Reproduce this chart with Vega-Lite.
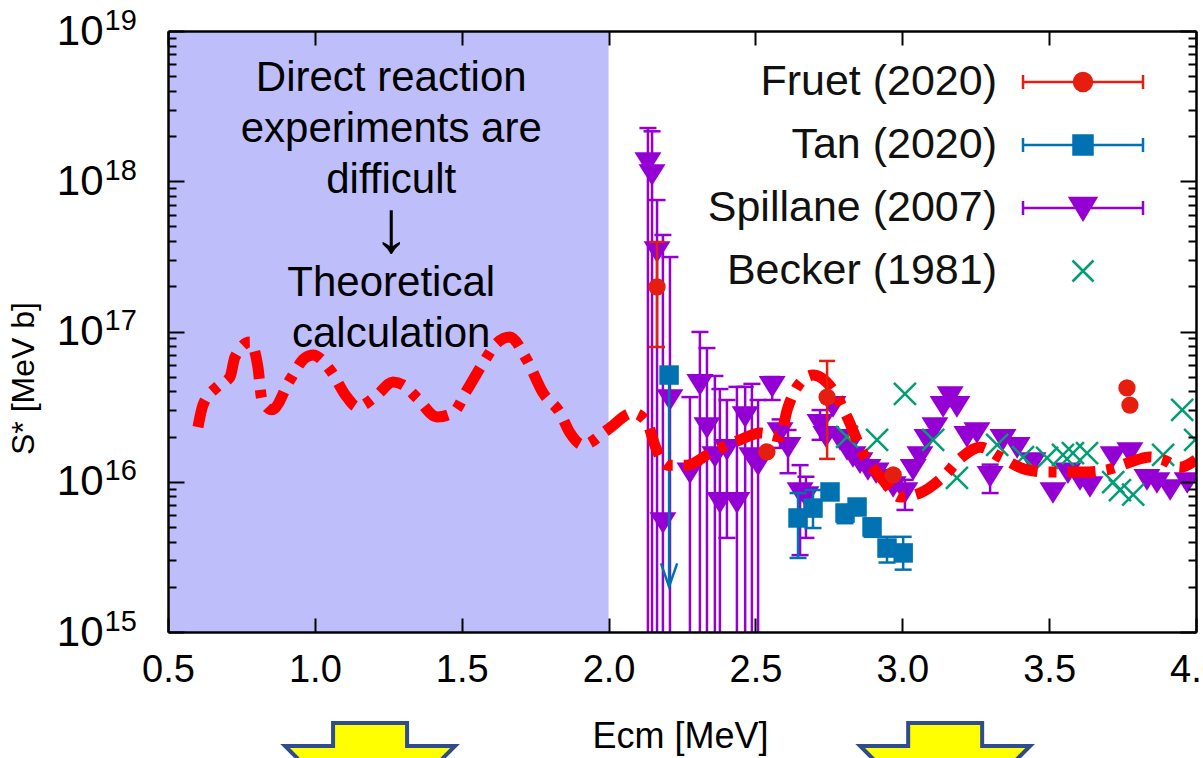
{
  "$schema": "https://vega.github.io/schema/vega-lite/v6.json",
  "width": 1028,
  "height": 601,
  "autosize": {"type": "none"},
  "padding": {"left": 168, "top": 31, "right": 7, "bottom": 126},
  "background": "white",
  "config": {
    "font": "Liberation Sans",
    "view": {"stroke": null},
    "legend": {
      "orient": "none",
      "legendX": 893.5,
      "legendY": 29.5,
      "padding": 0,
      "labelFontSize": 43,
      "labelColor": "#111",
      "labelAlign": "right",
      "labelBaseline": "middle",
      "labelOffset": -107.5,
      "labelLimit": 500,
      "symbolSize": 400,
      "symbolStrokeWidth": 2.5,
      "symbolOpacity": 1,
      "rowPadding": 19
    }
  },
  "datasets": {
    "theory": [
      {"E": 0.602, "S": 2.31e16}, {"E": 0.619, "S": 3.24e16}, {"E": 0.667, "S": 4.28e16}, {"E": 0.711, "S": 4.98e16},
      {"E": 0.728, "S": 6.76e16}, {"E": 0.779, "S": 8.51e16}, {"E": 0.806, "S": 5.81e16}, {"E": 0.820, "S": 3.50e16},
      {"E": 0.854, "S": 3.01e16}, {"E": 0.915, "S": 4.75e16}, {"E": 0.966, "S": 6.67e16}, {"E": 0.994, "S": 6.98e16},
      {"E": 1.052, "S": 5.55e16}, {"E": 1.109, "S": 3.66e16}, {"E": 1.144, "S": 3.15e16}, {"E": 1.212, "S": 3.78e16},
      {"E": 1.266, "S": 4.61e16}, {"E": 1.300, "S": 4.41e16}, {"E": 1.348, "S": 3.61e16}, {"E": 1.416, "S": 2.70e16},
      {"E": 1.470, "S": 2.87e16}, {"E": 1.518, "S": 4.08e16}, {"E": 1.573, "S": 6.17e16}, {"E": 1.620, "S": 8.38e16},
      {"E": 1.664, "S": 9.18e16}, {"E": 1.722, "S": 6.46e16}, {"E": 1.777, "S": 3.90e16}, {"E": 1.835, "S": 2.87e16},
      {"E": 1.869, "S": 2.11e16}, {"E": 1.913, "S": 1.76e16}, {"E": 1.995, "S": 2.21e16}, {"E": 2.083, "S": 2.87e16},
      {"E": 2.130, "S": 2.50e16}, {"E": 2.160, "S": 1.70e16}, {"E": 2.199, "S": 1.29e16}, {"E": 2.267, "S": 1.29e16},
      {"E": 2.345, "S": 1.55e16}, {"E": 2.448, "S": 1.90e16}, {"E": 2.516, "S": 2.11e16}, {"E": 2.584, "S": 1.99e16},
      {"E": 2.608, "S": 3.01e16}, {"E": 2.642, "S": 4.28e16}, {"E": 2.696, "S": 5.13e16}, {"E": 2.764, "S": 4.08e16},
      {"E": 2.812, "S": 2.70e16}, {"E": 2.866, "S": 1.55e16}, {"E": 2.934, "S": 1.03e16}, {"E": 2.992, "S": 7.92e15},
      {"E": 3.060, "S": 8.41e15}, {"E": 3.139, "S": 1.08e16}, {"E": 3.203, "S": 1.46e16}, {"E": 3.265, "S": 1.70e16},
      {"E": 3.333, "S": 1.46e16}, {"E": 3.425, "S": 1.20e16}, {"E": 3.503, "S": 1.16e16}, {"E": 3.615, "S": 1.16e16},
      {"E": 3.697, "S": 1.20e16}, {"E": 3.765, "S": 1.33e16}, {"E": 3.844, "S": 1.46e16}, {"E": 3.888, "S": 1.40e16},
      {"E": 3.946, "S": 1.25e16}, {"E": 4.0, "S": 1.40e16}
    ],
    "fruet": [
      {"E": 2.165, "S": 1.98e17, "lo": 7.89e16, "hi": 3.94e17},
      {"E": 2.539, "S": 1.58e16, "lo": null, "hi": null},
      {"E": 2.744, "S": 3.66e16, "lo": 1.42e16, "hi": 6.37e16},
      {"E": 2.969, "S": 1.11e16, "lo": null, "hi": null},
      {"E": 3.765, "S": 4.21e16, "lo": null, "hi": null},
      {"E": 3.775, "S": 3.24e16, "lo": null, "hi": null}
    ],
    "tan": [
      {"E": 2.206, "S": 5.13e16, "lo": null, "hi": null, "limit": 2.0e15},
      {"E": 2.645, "S": 5.74e15, "lo": 3.11e15, "hi": 8.41e15, "limit": null},
      {"E": 2.696, "S": 6.68e15, "lo": 4.92e15, "hi": 8.81e15, "limit": null},
      {"E": 2.754, "S": 8.55e15, "lo": null, "hi": null, "limit": null},
      {"E": 2.805, "S": 6.19e15, "lo": 5.30e15, "hi": 7.00e15, "limit": null},
      {"E": 2.846, "S": 6.79e15, "lo": null, "hi": null, "limit": null},
      {"E": 2.897, "S": 5.00e15, "lo": 4.30e15, "hi": 5.70e15, "limit": null},
      {"E": 2.948, "S": 3.62e15, "lo": 2.90e15, "hi": 4.30e15, "limit": null},
      {"E": 3.003, "S": 3.36e15, "lo": 2.60e15, "hi": 4.30e15, "limit": null}
    ],
    "spillane": [
      {"E": 2.134, "S": 1.32e18, "lo": 1e14, "hi": 2.26e18},
      {"E": 2.148, "S": 1.10e18, "lo": 1e14, "hi": 2.15e18},
      {"E": 2.165, "S": 3.38e17, "lo": 1e14, "hi": 7.50e17},
      {"E": 2.185, "S": 5.31e15, "lo": 1e14, "hi": 4.39e17},
      {"E": 2.209, "S": 3.50e16, "lo": 1e14, "hi": 3.13e17},
      {"E": 2.277, "S": 1.14e16, "lo": 1e14, "hi": 3.66e16},
      {"E": 2.311, "S": 4.41e16, "lo": 1e14, "hi": 9.93e16},
      {"E": 2.335, "S": 2.28e16, "lo": 1e14, "hi": 7.76e16},
      {"E": 2.362, "S": 1.46e16, "lo": 1e14, "hi": 5.06e16},
      {"E": 2.379, "S": 7.23e15, "lo": 1e14, "hi": 4.14e16},
      {"E": 2.403, "S": 1.63e16, "lo": 4.23e15, "hi": 3.50e16},
      {"E": 2.437, "S": 7.23e15, "lo": 1e14, "hi": 4.28e16},
      {"E": 2.465, "S": 2.70e16, "lo": 1e14, "hi": 4.28e16},
      {"E": 2.488, "S": 1.44e16, "lo": 1e14, "hi": 4.48e16},
      {"E": 2.509, "S": 1.29e16, "lo": 1e14, "hi": 3.50e16},
      {"E": 2.557, "S": 4.28e16, "lo": 3.50e16, "hi": 4.98e16},
      {"E": 2.584, "S": 2.11e16, "lo": 1.68e16, "hi": 2.60e16},
      {"E": 2.611, "S": 1.68e16, "lo": 1.14e16, "hi": 2.21e16},
      {"E": 2.652, "S": 8.41e15, "lo": 3.25e15, "hi": 1.29e16},
      {"E": 2.672, "S": 7.92e15, "lo": 4.23e15, "hi": 1.08e16},
      {"E": 2.720, "S": 2.39e16, "lo": 1.90e16, "hi": 3.00e16},
      {"E": 2.740, "S": 1.99e16, "lo": null, "hi": null},
      {"E": 2.764, "S": 3.15e16, "lo": null, "hi": null},
      {"E": 2.788, "S": 1.90e16, "lo": null, "hi": null},
      {"E": 2.812, "S": 1.63e16, "lo": null, "hi": null},
      {"E": 2.832, "S": 1.46e16, "lo": null, "hi": null},
      {"E": 2.856, "S": 1.33e16, "lo": null, "hi": null},
      {"E": 2.883, "S": 1.20e16, "lo": null, "hi": null},
      {"E": 2.911, "S": 1.14e16, "lo": null, "hi": null},
      {"E": 2.938, "S": 1.03e16, "lo": null, "hi": null},
      {"E": 2.969, "S": 9.23e15, "lo": null, "hi": null},
      {"E": 3.009, "S": 8.41e15, "lo": 6.49e15, "hi": 1.03e16},
      {"E": 3.037, "S": 1.20e16, "lo": null, "hi": null},
      {"E": 3.060, "S": 1.46e16, "lo": null, "hi": null},
      {"E": 3.084, "S": 1.90e16, "lo": null, "hi": null},
      {"E": 3.111, "S": 2.28e16, "lo": null, "hi": null},
      {"E": 3.139, "S": 3.15e16, "lo": null, "hi": null},
      {"E": 3.163, "S": 3.66e16, "lo": null, "hi": null},
      {"E": 3.186, "S": 3.15e16, "lo": null, "hi": null},
      {"E": 3.220, "S": 1.99e16, "lo": null, "hi": null},
      {"E": 3.254, "S": 2.11e16, "lo": null, "hi": null},
      {"E": 3.299, "S": 1.08e16, "lo": 8.41e15, "hi": 1.30e16},
      {"E": 3.343, "S": 1.90e16, "lo": null, "hi": null},
      {"E": 3.391, "S": 1.68e16, "lo": null, "hi": null},
      {"E": 3.445, "S": 1.33e16, "lo": null, "hi": null},
      {"E": 3.513, "S": 8.41e15, "lo": null, "hi": null},
      {"E": 3.564, "S": 1.14e16, "lo": null, "hi": null},
      {"E": 3.605, "S": 1.03e16, "lo": null, "hi": null},
      {"E": 3.639, "S": 9.23e15, "lo": null, "hi": null},
      {"E": 3.718, "S": 1.46e16, "lo": null, "hi": null},
      {"E": 3.775, "S": 1.55e16, "lo": null, "hi": null},
      {"E": 3.833, "S": 1.03e16, "lo": null, "hi": null},
      {"E": 3.867, "S": 9.82e15, "lo": null, "hi": null},
      {"E": 3.912, "S": 8.81e15, "lo": null, "hi": null},
      {"E": 3.970, "S": 9.82e15, "lo": null, "hi": null}
    ],
    "becker": [
      {"E": 2.812, "S": 1.99e16}, {"E": 2.914, "S": 1.90e16}, {"E": 3.009, "S": 3.84e16}, {"E": 3.105, "S": 1.90e16},
      {"E": 3.186, "S": 1.06e16}, {"E": 3.323, "S": 1.76e16}, {"E": 3.411, "S": 1.46e16}, {"E": 3.493, "S": 1.44e16},
      {"E": 3.547, "S": 1.51e16}, {"E": 3.581, "S": 1.55e16}, {"E": 3.629, "S": 1.55e16}, {"E": 3.718, "S": 9.95e15},
      {"E": 3.741, "S": 8.81e15}, {"E": 3.786, "S": 8.20e15}, {"E": 3.888, "S": 1.51e16}, {"E": 3.953, "S": 3.01e16},
      {"E": 3.997, "S": 1.90e16}
    ]
  },
  "resolve": {"axis": {"x": "independent", "y": "independent"}},
  "layer": [
    {
      "data": {"values": [{"from": 0.5, "to": 2.0}]},
      "mark": {"type": "rect", "color": "#bebefa", "clip": true},
      "encoding": {
        "x": {"field": "from", "type": "quantitative", "scale": {"domain": [0.5, 4.0], "nice": false, "zero": false}, "axis": null},
        "x2": {"field": "to"}
      }
    },
    {
      "data": {"values": [{}]},
      "mark": {"type": "text", "text": ["Direct reaction", "experiments are", "difficult"], "fontSize": 42, "lineHeight": 51, "align": "center", "baseline": "middle", "color": "#000"},
      "encoding": {
        "x": {"datum": 1.26, "type": "quantitative", "axis": null},
        "y": {"datum": 4.87e18, "type": "quantitative", "scale": {"type": "log", "domain": [1e15, 1e19], "nice": false}, "axis": null}
      }
    },
    {
      "data": {"values": [{}]},
      "mark": {"type": "text", "text": "↓", "fontSize": 74, "align": "center", "baseline": "middle", "color": "#000"},
      "encoding": {
        "x": {"datum": 1.26, "type": "quantitative", "axis": null},
        "y": {"datum": 4.74e17, "type": "quantitative", "axis": null}
      }
    },
    {
      "data": {"values": [{}]},
      "mark": {"type": "text", "text": ["Theoretical", "calculation"], "fontSize": 42, "lineHeight": 51, "align": "center", "baseline": "middle", "color": "#000"},
      "encoding": {
        "x": {"datum": 1.26, "type": "quantitative", "axis": null},
        "y": {"datum": 2.10e17, "type": "quantitative", "axis": null}
      }
    },
    {
      "data": {"name": "spillane"},
      "transform": [{"filter": "isValid(datum.lo)"}],
      "mark": {"type": "rule", "color": "#9400d3", "strokeWidth": 2.5, "clip": true},
      "encoding": {
        "x": {"field": "E", "type": "quantitative", "axis": null},
        "y": {"field": "lo", "type": "quantitative", "axis": null},
        "y2": {"field": "hi"}
      }
    },
    {
      "data": {"name": "spillane"},
      "transform": [{"fold": ["lo", "hi"], "as": ["end", "v"]}, {"filter": "isValid(datum.v)"}],
      "mark": {"type": "tick", "orient": "horizontal", "color": "#9400d3", "size": 17, "thickness": 2.5, "opacity": 1, "clip": true},
      "encoding": {
        "x": {"field": "E", "type": "quantitative", "axis": null},
        "y": {"field": "v", "type": "quantitative", "axis": null}
      }
    },
    {
      "data": {"name": "spillane"},
      "mark": {"type": "point", "shape": "M-1,-0.8L1,-0.8L0,0.8Z", "size": 730, "filled": true, "color": "#9400d3", "opacity": 1, "clip": true},
      "encoding": {
        "x": {"field": "E", "type": "quantitative", "axis": null},
        "y": {"field": "S", "type": "quantitative", "axis": null}
      }
    },
    {
      "data": {"name": "tan"},
      "transform": [{"filter": "isValid(datum.lo)"}],
      "mark": {"type": "rule", "color": "#0072b2", "strokeWidth": 2.5, "clip": true},
      "encoding": {
        "x": {"field": "E", "type": "quantitative", "axis": null},
        "y": {"field": "lo", "type": "quantitative", "axis": null},
        "y2": {"field": "hi"}
      }
    },
    {
      "data": {"name": "tan"},
      "transform": [{"fold": ["lo", "hi"], "as": ["end", "v"]}, {"filter": "isValid(datum.v)"}],
      "mark": {"type": "tick", "orient": "horizontal", "color": "#0072b2", "size": 17, "thickness": 2.5, "opacity": 1, "clip": true},
      "encoding": {
        "x": {"field": "E", "type": "quantitative", "axis": null},
        "y": {"field": "v", "type": "quantitative", "axis": null}
      }
    },
    {
      "data": {"name": "tan"},
      "transform": [{"filter": "isValid(datum.limit)"}],
      "mark": {"type": "rule", "color": "#0072b2", "strokeWidth": 2.5, "clip": true},
      "encoding": {
        "x": {"field": "E", "type": "quantitative", "axis": null},
        "y": {"field": "S", "type": "quantitative", "axis": null},
        "y2": {"field": "limit"}
      }
    },
    {
      "data": {"name": "tan"},
      "transform": [{"filter": "isValid(datum.limit)"}],
      "mark": {"type": "point", "shape": "M-0.45,-1.3L0,0L0.45,-1.3", "size": 1296, "filled": false, "color": "#0072b2", "strokeWidth": 2.5, "opacity": 1, "clip": true},
      "encoding": {
        "x": {"field": "E", "type": "quantitative", "axis": null},
        "y": {"field": "limit", "type": "quantitative", "axis": null}
      }
    },
    {
      "data": {"name": "tan"},
      "mark": {"type": "point", "shape": "square", "size": 380, "filled": true, "color": "#0072b2", "opacity": 1, "clip": true},
      "encoding": {
        "x": {"field": "E", "type": "quantitative", "axis": null},
        "y": {"field": "S", "type": "quantitative", "axis": null}
      }
    },
    {
      "data": {"name": "becker"},
      "mark": {"type": "point", "shape": "M-1,-1L1,1M-1,1L1,-1", "size": 484, "filled": false, "color": "#009e73", "strokeWidth": 2.5, "opacity": 1, "clip": true},
      "encoding": {
        "x": {"field": "E", "type": "quantitative", "axis": null},
        "y": {"field": "S", "type": "quantitative", "axis": null}
      }
    },
    {
      "data": {"name": "theory"},
      "mark": {"type": "line", "color": "#ff0000", "strokeWidth": 11, "strokeDash": [28, 11, 8, 11], "strokeCap": "butt", "interpolate": "monotone", "clip": true},
      "encoding": {
        "x": {"field": "E", "type": "quantitative", "axis": null},
        "y": {"field": "S", "type": "quantitative", "axis": null}
      }
    },
    {
      "data": {"name": "fruet"},
      "transform": [{"filter": "isValid(datum.lo)"}],
      "mark": {"type": "rule", "color": "#e51e10", "strokeWidth": 2.5, "clip": true},
      "encoding": {
        "x": {"field": "E", "type": "quantitative", "axis": null},
        "y": {"field": "lo", "type": "quantitative", "axis": null},
        "y2": {"field": "hi"}
      }
    },
    {
      "data": {"name": "fruet"},
      "transform": [{"fold": ["lo", "hi"], "as": ["end", "v"]}, {"filter": "isValid(datum.v)"}],
      "mark": {"type": "tick", "orient": "horizontal", "color": "#e51e10", "size": 16, "thickness": 2.5, "opacity": 1, "clip": true},
      "encoding": {
        "x": {"field": "E", "type": "quantitative", "axis": null},
        "y": {"field": "v", "type": "quantitative", "axis": null}
      }
    },
    {
      "data": {"name": "fruet"},
      "mark": {"type": "point", "shape": "circle", "size": 300, "filled": true, "color": "#e51e10", "opacity": 1, "clip": true},
      "encoding": {
        "x": {"field": "E", "type": "quantitative", "axis": null},
        "y": {"field": "S", "type": "quantitative", "axis": null}
      }
    },
    {
      "data": {"values": []},
      "mark": {"type": "point", "opacity": 0},
      "encoding": {
        "x": {"field": "E", "type": "quantitative", "axis": {"orient": "bottom", "values": [0.5, 1, 1.5, 2, 2.5, 3, 3.5, 4], "format": ".1f", "ticks": false, "domain": false, "grid": false, "labelFontSize": 38, "labelColor": "#000", "labelPadding": 19, "labelFlush": false, "labelOverlap": false, "labelBound": false, "title": "Ecm [MeV]", "titleFontSize": 36, "titleFontWeight": "normal", "titleColor": "#000", "titleX": 512, "titleY": 104, "titleAlign": "center", "titleBaseline": "middle", "zindex": 1}},
        "y": {"field": "S", "type": "quantitative", "axis": {"orient": "left", "values": [1e15, 1e16, 1e17, 1e18, 1e19], "labelExpr": "'10'", "ticks": false, "domain": false, "grid": false, "labelFontSize": 42, "labelColor": "#000", "labelPadding": 65, "labelAlign": "right", "labelBaseline": "middle", "labelFlush": false, "labelOverlap": false, "labelBound": false, "title": "S* [MeV b]", "titleFontSize": 32, "titleFontWeight": "normal", "titleColor": "#000", "titleX": -145, "titleY": 347, "titleAngle": -90, "titleAlign": "center", "titleBaseline": "middle", "zindex": 1}}
      }
    },
    {
      "data": {"values": []},
      "mark": {"type": "point", "opacity": 0},
      "encoding": {
        "x": {"field": "E", "type": "quantitative", "axis": {"orient": "bottom", "values": [0.5, 1, 1.5, 2, 2.5, 3, 3.5, 4], "labels": false, "tickSize": -14, "tickWidth": 2, "tickColor": "#000", "domain": true, "domainColor": "#000", "domainWidth": 2.5, "grid": false, "title": null, "zindex": 1}},
        "y": {"field": "S", "type": "quantitative", "axis": {"orient": "left", "values": [1e15, 1e16, 1e17, 1e18, 1e19], "labelExpr": "'' + round(log(datum.value) / LN10)", "ticks": false, "domain": false, "grid": false, "labelFontSize": 29, "labelColor": "#000", "labelPadding": 64, "labelAlign": "left", "labelBaseline": "middle", "labelOffset": -11, "labelFlush": false, "labelOverlap": false, "labelBound": false, "title": null, "zindex": 1}}
      }
    },
    {
      "data": {"values": []},
      "mark": {"type": "point", "opacity": 0},
      "encoding": {
        "x": {"field": "E", "type": "quantitative", "axis": {"orient": "top", "values": [0.5, 1, 1.5, 2, 2.5, 3, 3.5, 4], "labels": false, "tickSize": -14, "tickWidth": 2, "tickColor": "#000", "domain": true, "domainColor": "#000", "domainWidth": 2.5, "grid": false, "title": null, "zindex": 1}},
        "y": {"field": "S", "type": "quantitative", "axis": {"orient": "left", "values": [1e15, 1e16, 1e17, 1e18, 1e19], "labels": false, "tickSize": -16, "tickWidth": 2, "tickColor": "#000", "domain": true, "domainColor": "#000", "domainWidth": 2.5, "grid": false, "title": null, "zindex": 1}}
      }
    },
    {
      "data": {"values": []},
      "mark": {"type": "point", "opacity": 0},
      "encoding": {
        "x": {"field": "E", "type": "quantitative", "axis": null},
        "y": {"field": "S", "type": "quantitative", "axis": {"orient": "left", "values": [2e15, 3e15, 4e15, 5e15, 6e15, 7e15, 8e15, 9e15, 2e16, 3e16, 4e16, 5e16, 6e16, 7e16, 8e16, 9e16, 2e17, 3e17, 4e17, 5e17, 6e17, 7e17, 8e17, 9e17, 2e18, 3e18, 4e18, 5e18, 6e18, 7e18, 8e18, 9e18], "labels": false, "tickSize": -8, "tickWidth": 2, "tickColor": "#000", "domain": false, "grid": false, "title": null, "zindex": 1}}
      }
    },
    {
      "data": {"values": []},
      "mark": {"type": "point", "opacity": 0},
      "encoding": {
        "x": {"field": "E", "type": "quantitative", "axis": null},
        "y": {"field": "S", "type": "quantitative", "axis": {"orient": "right", "values": [1e15, 1e16, 1e17, 1e18, 1e19], "labels": false, "tickSize": -16, "tickWidth": 2, "tickColor": "#000", "domain": true, "domainColor": "#000", "domainWidth": 2.5, "grid": false, "title": null, "zindex": 1}}
      }
    },
    {
      "data": {"values": []},
      "mark": {"type": "point", "opacity": 0},
      "encoding": {
        "x": {"field": "E", "type": "quantitative", "axis": null},
        "y": {"field": "S", "type": "quantitative", "axis": {"orient": "right", "values": [2e15, 3e15, 4e15, 5e15, 6e15, 7e15, 8e15, 9e15, 2e16, 3e16, 4e16, 5e16, 6e16, 7e16, 8e16, 9e16, 2e17, 3e17, 4e17, 5e17, 6e17, 7e17, 8e17, 9e17, 2e18, 3e18, 4e18, 5e18, 6e18, 7e18, 8e18, 9e18], "labels": false, "tickSize": -8, "tickWidth": 2, "tickColor": "#000", "domain": false, "grid": false, "title": null, "zindex": 1}}
      }
    },
    {
      "data": {"values": []},
      "mark": {"type": "point", "filled": true, "size": 400, "opacity": 1},
      "encoding": {
        "x": {"field": "E", "type": "quantitative", "axis": null},
        "y": {"field": "S", "type": "quantitative", "axis": null},
        "fill": {"field": "series", "type": "nominal", "scale": {"domain": ["Fruet (2020)", "Tan (2020)", "Spillane (2007)", "Becker (1981)"], "range": ["#e51e10", "#0072b2", "#9400d3", "#009e73"]}, "legend": {"title": null}},
        "stroke": {"field": "series", "type": "nominal", "scale": {"domain": ["Fruet (2020)", "Tan (2020)", "Spillane (2007)", "Becker (1981)"], "range": ["#e51e10", "#0072b2", "#9400d3", "#009e73"]}, "legend": {"title": null}},
        "shape": {"field": "series", "type": "nominal", "scale": {"domain": ["Fruet (2020)", "Tan (2020)", "Spillane (2007)", "Becker (1981)"], "range": [
          "M-6,0H6M-6,-0.7V0.7M6,-0.7V0.7M0.9,0A0.9,0.9,0,1,1,-0.9,0A0.9,0.9,0,1,1,0.9,0Z",
          "M-6,0H6M-6,-0.7V0.7M6,-0.7V0.7M-0.95,-0.95H0.95V0.95H-0.95Z",
          "M-6,0H6M-6,-0.7V0.7M6,-0.7V0.7M-1.3,-1H1.3L0,1.15Z",
          "M-1.05,-1.05L1.05,1.05M-1.05,1.05L1.05,-1.05"
        ]}, "legend": {"title": null}}
      }
    },
    {
      "data": {"values": [{}]},
      "mark": {"type": "point", "shape": "M-37,0H37V23H85L0,108L-85,23H-37Z", "size": 4, "filled": true, "fill": "#ffff00", "stroke": "#2f4c8c", "strokeWidth": 4, "opacity": 1, "yOffset": 91},
      "encoding": {
        "x": {"datum": 1.188, "type": "quantitative", "axis": null},
        "y": {"datum": 1e15, "type": "quantitative", "axis": null}
      }
    },
    {
      "data": {"values": [{}]},
      "mark": {"type": "point", "shape": "M-37,0H37V23H85L0,108L-85,23H-37Z", "size": 4, "filled": true, "fill": "#ffff00", "stroke": "#2f4c8c", "strokeWidth": 4, "opacity": 1, "yOffset": 91},
      "encoding": {
        "x": {"datum": 3.146, "type": "quantitative", "axis": null},
        "y": {"datum": 1e15, "type": "quantitative", "axis": null}
      }
    }
  ]
}
